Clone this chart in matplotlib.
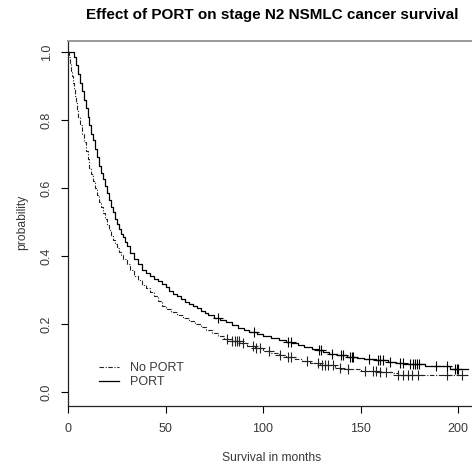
import numpy as np
import matplotlib
matplotlib.use('Agg')
import matplotlib.pyplot as plt

plt.rcParams['font.family'] = ['Liberation Sans', 'DejaVu Sans']

# =========================
# Data
# =========================
port_t = [0, 3, 4, 5, 6, 7, 8, 9, 10, 11, 12, 13, 14, 15, 16, 17, 18, 19, 20, 21,
          22, 23, 24, 25, 26, 27, 28, 29, 30, 32, 34, 36, 38, 40, 42, 44, 46, 48, 50,
          52, 54, 56, 58, 60, 62, 64, 66, 68, 70, 72, 75, 78, 81, 84, 87, 90, 93, 97,
          100, 104, 108, 112, 115, 118, 121, 125, 128, 131, 134, 138, 143, 148, 152,
          158, 164, 168, 172, 183, 196, 205]
port_s = [1.0, 0.985, 0.96, 0.935, 0.91, 0.885, 0.86, 0.835, 0.81, 0.785, 0.76, 0.74,
          0.715, 0.69, 0.665, 0.645, 0.625, 0.605, 0.585, 0.565, 0.545, 0.53, 0.51,
          0.495, 0.48, 0.465, 0.455, 0.44, 0.43, 0.41, 0.39, 0.375, 0.36, 0.35, 0.34,
          0.332, 0.326, 0.318, 0.308, 0.298, 0.289, 0.281, 0.273, 0.266, 0.259, 0.252,
          0.246, 0.237, 0.232, 0.226, 0.219, 0.212, 0.205, 0.198, 0.189, 0.182, 0.177,
          0.171, 0.165, 0.159, 0.153, 0.148, 0.143, 0.137, 0.132, 0.127, 0.123, 0.117,
          0.111, 0.108, 0.104, 0.1, 0.097, 0.093, 0.089, 0.085, 0.082, 0.078, 0.068,
          0.068]
port_cens = [77, 95.4, 113, 114.2, 128.9, 129.7, 135.2, 140, 141.2, 144.6, 145.5, 146.3,
             154.5, 159.1, 160, 161.4, 165, 170.3, 171.6, 175.4, 176.8, 177.9, 179.1,
             180.2, 188.7, 194.5, 198.5, 199.3, 200.2]

noport_t = [0, 0.5, 1, 1.5, 2, 2.5, 3, 3.5, 4, 4.5, 5, 6, 7, 8, 9, 10, 11, 12, 13, 14,
            15, 16, 17, 18, 19, 20, 21, 22, 23, 24, 25, 26, 27, 28, 30, 32, 34, 36, 38,
            40, 42, 44, 46, 48, 50, 53, 56, 59, 62, 65, 68, 71, 74, 77, 80, 84, 88, 92,
            96, 100, 104, 108, 112, 116, 120, 124, 129, 137, 140, 150, 160, 166, 169, 205]
noport_s = [1.0, 0.985, 0.965, 0.945, 0.93, 0.91, 0.89, 0.87, 0.85, 0.83, 0.81, 0.785,
            0.76, 0.735, 0.71, 0.685, 0.66, 0.64, 0.62, 0.6, 0.58, 0.56, 0.545, 0.525,
            0.51, 0.49, 0.475, 0.46, 0.448, 0.435, 0.423, 0.412, 0.402, 0.392, 0.375,
            0.358, 0.342, 0.328, 0.316, 0.305, 0.295, 0.282, 0.268, 0.252, 0.244, 0.236,
            0.226, 0.217, 0.208, 0.199, 0.19, 0.182, 0.174, 0.165, 0.157, 0.15, 0.144,
            0.136, 0.13, 0.122, 0.116, 0.11, 0.102, 0.096, 0.09, 0.085, 0.08, 0.072,
            0.068, 0.063, 0.059, 0.055, 0.05, 0.05]
noport_cens = [81.4, 84.3, 85.6, 86.8, 87.8, 89.6, 94.7, 96.4, 98.5, 103.2, 108.7, 113,
               114.4, 122.7, 128.4, 130.1, 131.8, 133.5, 136, 139.5, 143.7, 152.3, 156.2,
               158, 160, 162.9, 169.4, 171.9, 174.5, 176.2, 179.6, 194.2, 201.9]

x_ticks = [0, 50, 100, 150, 200]
y_ticks = [0.0, 0.2, 0.4, 0.6, 0.8, 1.0]


def surv_at(times, surv, t):
    # value of the step curve at time t
    idx = np.searchsorted(times, t, side='right') - 1
    return np.array(surv)[idx]


# =========================
# Plot
# =========================
fig = plt.figure(figsize=(4.72, 4.67), dpi=100)
ax = fig.add_axes([68 / 472, 61 / 467, 408 / 472, 365 / 467])

txt = '#3a3a3a'
dash_dot = (0, (4, 1.5, 1, 1.5))

l1, = ax.step(noport_t, noport_s, where='post', color='#222222', lw=0.8, linestyle=dash_dot)
l2, = ax.step(port_t, port_s, where='post', color='black', lw=0.9)
ax.plot(noport_cens, surv_at(noport_t, noport_s, noport_cens), '+', color='#222222',
        ms=7, mew=0.8)
ax.plot(port_cens, surv_at(port_t, port_s, port_cens), '+', color='black', ms=7, mew=0.8)

ax.set_xlim(0, 209.2)
ax.set_ylim(-0.041, 1.032)
ax.set_xticks(x_ticks)
ax.set_xticklabels([str(v) for v in x_ticks])
ax.set_yticks(y_ticks)
ax.set_yticklabels(['%.1f' % v for v in y_ticks], rotation=90, va='center')
ax.tick_params(direction='out', length=5, width=0.8, labelsize=9, labelcolor=txt, pad=6)
ax.tick_params(axis='x', pad=7)

for side in ['left', 'bottom']:
    ax.spines[side].set_color('#222222')
    ax.spines[side].set_linewidth(0.9)
ax.spines['top'].set_color('#999999')
ax.spines['top'].set_linewidth(1.4)
ax.spines['right'].set_visible(False)

ax.legend([l1, l2], ['No PORT', 'PORT'], loc='lower left', bbox_to_anchor=(0.048, 0.018),
          frameon=False, fontsize=9, handlelength=1.6, handletextpad=0.9,
          labelspacing=0.15, labelcolor=txt)

fig.text(272 / 472, 1 - 15 / 467, 'Effect of PORT on stage N2 NSMLC cancer survival',
         ha='center', va='center', fontsize=11, fontweight='bold', color='black')
fig.text(272 / 472, 1 - 458 / 467, 'Survival in months', ha='center', va='center',
         fontsize=8.7, color=txt)
fig.text(22 / 472, 1 - 222 / 467, 'probability', ha='center', va='center',
         rotation=90, fontsize=8.7, color=txt)

plt.savefig('out.png', dpi=100)
